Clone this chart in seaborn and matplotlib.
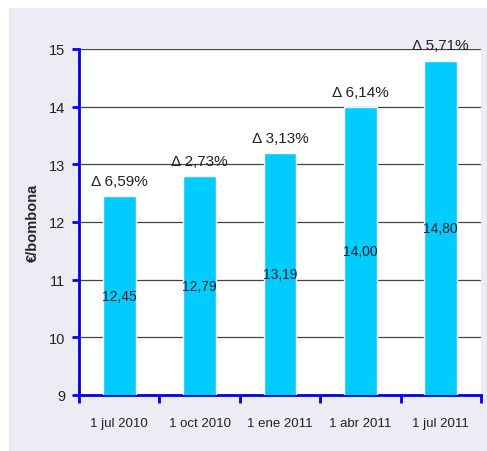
import numpy as np
import pandas as pd
import matplotlib
matplotlib.use('Agg')
import matplotlib.pyplot as plt
import seaborn as sns
from matplotlib.patches import Rectangle

# datos
fechas = ['1 jul 2010', '1 oct 2010', '1 ene 2011', '1 abr 2011', '1 jul 2011']
precios = [12.45, 12.79, 13.19, 14.00, 14.80]
etiquetas = ['12,45', '12,79', '13,19', '14,00', '14,80']
variacion = ['6,59%', '2,73%', '3,13%', '6,14%', '5,71%']

df = pd.DataFrame({'fecha': fechas, 'precio': precios})

sns.set_style('white')
plt.rcParams['font.family'] = ['Liberation Sans', 'DejaVu Sans']

fig = plt.figure(figsize=(4.87, 4.52), dpi=100)
fig.patch.set_facecolor('white')
fig.patches.append(Rectangle((9 / 487, 0), 1 - 9 / 487, 1 - 9 / 452,
                             transform=fig.transFigure, color='#ececf4', zorder=-10))

ax = fig.add_axes([79 / 487, 56 / 452, 402 / 487, 346 / 452])
ax.set_facecolor('white')

sns.barplot(data=df, x='fecha', y='precio', color='#00ccff', width=0.41,
            saturation=1, ax=ax, zorder=3)

ax.set_ylim(9, 15)
ax.set_xlim(-0.5, 4.5)
ax.set_yticks(range(9, 16))
ax.yaxis.grid(True, color='#444444', lw=0.9, zorder=0)
ax.set_axisbelow(True)

for s in ['top', 'right']:
    ax.spines[s].set_visible(False)
for s in ['left', 'bottom']:
    ax.spines[s].set_color('#0000ee')
    ax.spines[s].set_linewidth(2)

ax.tick_params(axis='y', colors='#0000ee', length=5, width=2, labelcolor='#222222',
               labelsize=10.5, direction='out', left=True, pad=5)
ax.tick_params(axis='x', which='major', length=0, pad=16, labelsize=9.5, labelcolor='#222222')
ax.set_xticks(np.arange(-0.5, 5, 1), minor=True)
ax.tick_params(axis='x', which='minor', length=6, width=2, colors='#0000ee', direction='out', bottom=True)

ax.set_xlabel('')
ax.set_ylabel('€/bombona', fontsize=10.5, fontweight='bold', labelpad=6)

for i, (p, e, v) in enumerate(zip(precios, etiquetas, variacion)):
    ax.text(i, (p + 9) / 2, e, ha='center', va='center', fontsize=10, color='#222222', zorder=5)
    ax.text(i, p + 0.14, 'Δ ' + v, ha='center', va='bottom', fontsize=11, color='#222222', zorder=5)

fig.savefig('out.png', dpi=100, facecolor=fig.get_facecolor())
